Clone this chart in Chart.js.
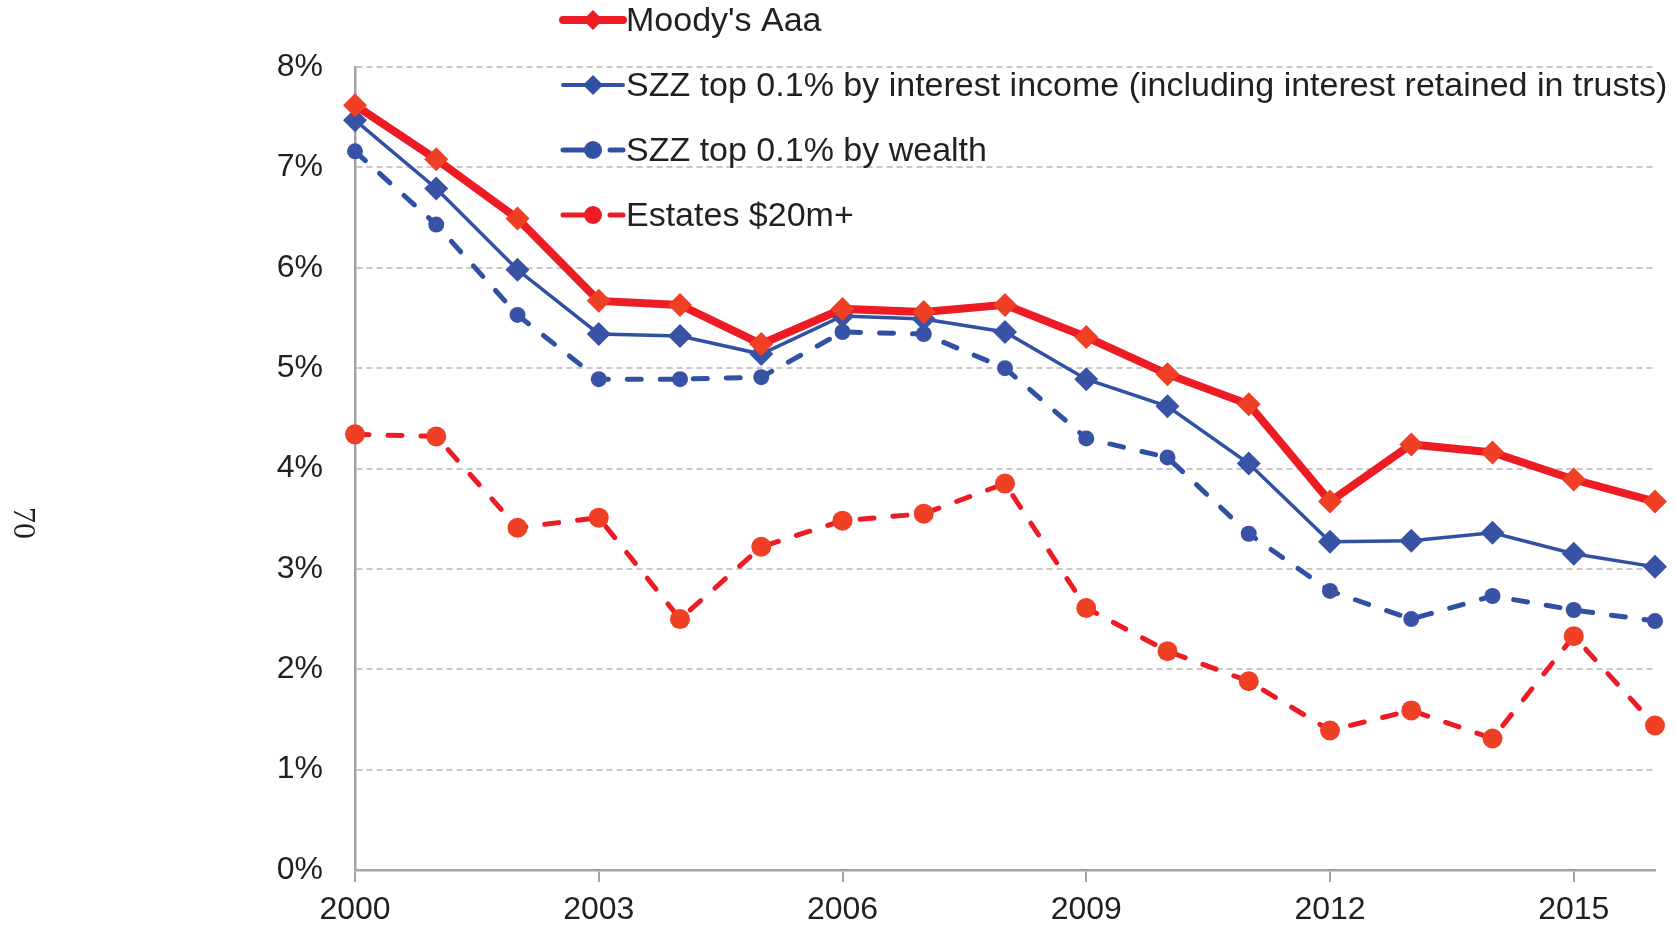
<!DOCTYPE html>
<html lang="en">

<head>
    <meta charset="UTF-8">
    <title>interest rates</title>
    <script src="https://cdn.jsdelivr.net/npm/chart.js"></script>
    <style>
        body { margin: 0; background: #fff; }
        .wrap { width: 1675px; height: 932px; }
    </style>
</head>

<body>
    <div class="wrap">
        <canvas id="rateChart" width="1675" height="932"></canvas>
    </div>

    <script>
        // data (percent)
        const years = ['2000', '2001', '2002', '2003', '2004', '2005', '2006', '2007', '2008',
            '2009', '2010', '2011', '2012', '2013', '2014', '2015', '2016'];
        const moodys = [7.62, 7.08, 6.49, 5.67, 5.63, 5.24, 5.59, 5.56, 5.63, 5.31, 4.94, 4.64, 3.67, 4.24, 4.16, 3.89, 3.67];
        const szzIncome = [7.47, 6.79, 5.98, 5.34, 5.32, 5.14, 5.52, 5.49, 5.36, 4.89, 4.62, 4.05, 3.27, 3.28, 3.36, 3.15, 3.02];
        const szzWealth = [7.16, 6.43, 5.53, 4.89, 4.89, 4.91, 5.36, 5.34, 5.00, 4.30, 4.11, 3.35, 2.78, 2.50, 2.73, 2.59, 2.48];
        const estates = [4.34, 4.32, 3.41, 3.51, 2.50, 3.22, 3.48, 3.55, 3.85, 2.61, 2.18, 1.88, 1.39, 1.59, 1.31, 2.33, 1.44];
        const seriesNames = ["Moody's Aaa", 'SZZ top 0.1% by interest income (including interest retained in trusts)',
            'SZZ top 0.1% by wealth', 'Estates $20m+'];
        const pageNumber = '70';

        const red = '#ed1c24';
        const redPt = '#ef3f24';
        const blue = '#2f50a3';
        const bluePt = '#3853a6';

        // legend drawn inside the plot, top right, like the original
        const legendPlugin = {
            id: 'sideLegend',
            afterDraw(chart) {
                const ctx = chart.ctx;
                const rows = [20, 85, 150, 215];
                const x0 = 563, x1 = 623, mid = 593;
                ctx.save();
                chart.data.datasets.forEach((ds, i) => {
                    const y = rows[i];
                    ctx.strokeStyle = ds.borderColor;
                    ctx.lineWidth = ds.legendWidth;
                    ctx.lineCap = 'round';
                    ctx.setLineDash([]);
                    ctx.beginPath();
                    if (ds.borderDash) {
                        ctx.moveTo(x0, y);
                        ctx.lineTo(mid, y);
                        ctx.moveTo(mid + 17, y);
                        ctx.lineTo(x1, y);
                    } else {
                        ctx.moveTo(x0, y);
                        ctx.lineTo(x1, y);
                    }
                    ctx.stroke();
                    ctx.fillStyle = ds.borderColor;
                    ctx.beginPath();
                    if (ds.pointStyle === 'rectRot') {
                        const r = 10;
                        ctx.moveTo(mid, y - r);
                        ctx.lineTo(mid + r, y);
                        ctx.lineTo(mid, y + r);
                        ctx.lineTo(mid - r, y);
                        ctx.closePath();
                    } else {
                        ctx.arc(mid, y, 9, 0, Math.PI * 2);
                    }
                    ctx.fill();
                    ctx.fillStyle = '#231f20';
                    ctx.font = '34px "Liberation Sans", Arial, sans-serif';
                    ctx.textBaseline = 'middle';
                    ctx.textAlign = 'left';
                    ctx.fillText(ds.label, 626, y + 2);
                });
                // stray page number on the left edge
                ctx.translate(22, 523);
                ctx.rotate(Math.PI / 2);
                ctx.font = '32px "Liberation Serif", serif';
                ctx.fillStyle = '#231f20';
                ctx.textAlign = 'center';
                ctx.textBaseline = 'middle';
                ctx.fillText(pageNumber, 0, 0);
                ctx.restore();
            }
        };

        const ctx = document.getElementById('rateChart').getContext('2d');
        const rateChart = new Chart(ctx, {
            type: 'line',
            data: {
                labels: years,
                datasets: [
                    {
                        label: seriesNames[0],
                        data: moodys,
                        borderColor: red,
                        borderWidth: 8,
                        legendWidth: 8,
                        pointStyle: 'rectRot',
                        pointRadius: 12,
                        pointBackgroundColor: redPt,
                        pointBorderWidth: 0,
                        clip: false,
                    },
                    {
                        label: seriesNames[1],
                        data: szzIncome,
                        borderColor: blue,
                        borderWidth: 3.5,
                        legendWidth: 4,
                        pointStyle: 'rectRot',
                        pointRadius: 12,
                        pointBackgroundColor: bluePt,
                        pointBorderWidth: 0,
                        clip: false,
                    },
                    {
                        label: seriesNames[2],
                        data: szzWealth,
                        borderColor: blue,
                        borderWidth: 5,
                        legendWidth: 5,
                        borderDash: [14, 19],
                        borderCapStyle: 'round',
                        pointStyle: 'circle',
                        pointRadius: 8,
                        pointBackgroundColor: bluePt,
                        pointBorderWidth: 0,
                        clip: false,
                    },
                    {
                        label: seriesNames[3],
                        data: estates,
                        borderColor: red,
                        borderWidth: 5,
                        legendWidth: 5,
                        borderDash: [14, 19],
                        borderCapStyle: 'round',
                        pointStyle: 'circle',
                        pointRadius: 10,
                        pointBackgroundColor: redPt,
                        pointBorderWidth: 0,
                        clip: false,
                    },
                ],
            },
            options: {
                responsive: false,
                animation: false,
                layout: {
                    padding: { top: 67, right: 20, left: 0, bottom: 0 },
                },
                plugins: {
                    legend: { display: false },
                    tooltip: { enabled: false },
                },
                elements: {
                    line: { tension: 0 },
                },
                scales: {
                    x: {
                        type: 'category',
                        offset: false,
                        afterFit: (scale) => { scale.height = 62; },
                        border: { color: '#a3a3a6', width: 2.5 },
                        grid: {
                            drawOnChartArea: false,
                            drawTicks: true,
                            tickLength: 12,
                            color: '#a3a3a6',
                            lineWidth: 2,
                        },
                        ticks: {
                            autoSkip: false,
                            maxRotation: 0,
                            padding: 9,
                            color: '#231f20',
                            font: { family: '"Liberation Sans", Arial, sans-serif', size: 32 },
                            callback: function (value, index) {
                                return index % 3 === 0 ? years[index] : null;
                            },
                        },
                    },
                    y: {
                        min: 0,
                        max: 8,
                        afterFit: (scale) => { scale.width = 355; },
                        // in v4 border.dash styles the gridlines
                        border: { color: '#a3a3a6', width: 2.5, dash: [6, 4] },
                        grid: {
                            drawTicks: false,
                            color: '#c8c8c8',
                            lineWidth: 2,
                        },
                        ticks: {
                            stepSize: 1,
                            padding: 32,
                            color: '#231f20',
                            font: { family: '"Liberation Sans", Arial, sans-serif', size: 32 },
                            callback: (v) => v + '%',
                        },
                    },
                },
            },
            plugins: [legendPlugin],
        });
    </script>
</body>

</html>
